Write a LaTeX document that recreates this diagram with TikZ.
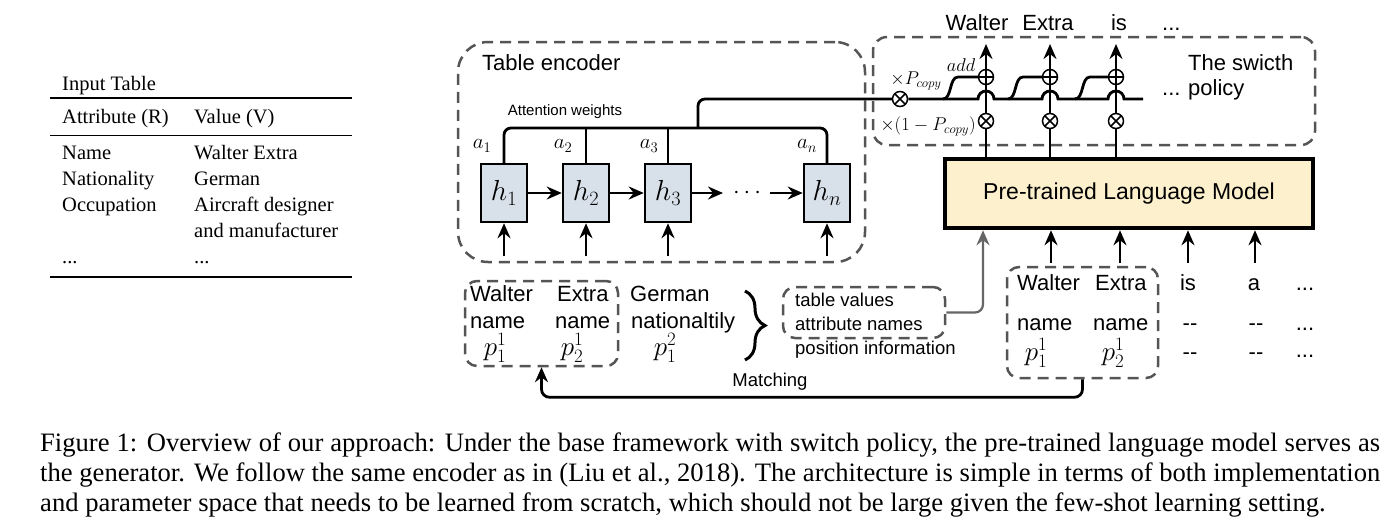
\RequirePackage{fix-cm}
\documentclass[tikz,border=0pt]{standalone}
\usepackage{fontspec}
\setmainfont{Liberation Sans}
\newfontfamily\serifT{Liberation Serif}
\usetikzlibrary{arrows.meta,calc,decorations.pathreplacing}
\definecolor{dgray}{HTML}{555555}
\definecolor{hfill}{HTML}{D8E1EA}
\definecolor{lmfill}{HTML}{FDF0CC}
\definecolor{ggray}{HTML}{666666}
\newcommand\fsz[2]{\fontsize{#1}{#2}\selectfont}
\begin{document}
\begin{tikzpicture}[x=1pt,y=-1pt,font=\fsz{22}{26},
  dbox/.style={draw=dgray,line width=2.5pt,dash pattern=on 11pt off 7pt,inner sep=0pt},
  hbox/.style={draw,line width=2.5pt,fill=hfill,minimum width=46pt,minimum height=58pt,inner sep=0pt,font=\fsz{29}{30}},
  conn/.style={line width=2.8pt},
  arr/.style={conn,-{Stealth[length=15pt,width=13pt,inset=5pt]}},
  garr/.style={line width=2.2pt,draw=ggray,-{Stealth[length=15pt,width=13pt,inset=5pt]}},
  xop/.style={circle,draw,line width=1.5pt,fill=white,minimum size=15pt,inner sep=0pt,
    path picture={\draw[line width=1.5pt]
      ([shift={(45:9pt)}]path picture bounding box.center) -- ([shift={(225:9pt)}]path picture bounding box.center)
      ([shift={(135:9pt)}]path picture bounding box.center) -- ([shift={(315:9pt)}]path picture bounding box.center);}},
  pop/.style={circle,draw,line width=1.5pt,fill=white,minimum size=15pt,inner sep=0pt,
    path picture={\draw[line width=1.5pt]
      (path picture bounding box.north) -- (path picture bounding box.south)
      (path picture bounding box.west) -- (path picture bounding box.east);}},
  txt/.style={inner sep=0pt,anchor=base},
  txtw/.style={inner sep=0pt,anchor=base west},
  mlab/.style={inner sep=0pt,font=\fsz{18.5}{22}},
  alab/.style={inner sep=0pt,font=\fsz{21}{24}},
  plab/.style={inner sep=0pt,font=\fsz{27}{30}},
]
\fill[white] (0,0) rectangle (1400,531);
\useasboundingbox (0,0) rectangle (1400,531);

% ---------------- Input table ----------------
\begin{scope}[font=\serifT\fsz{20.5}{24}]
\node[txtw] (tt) at (62,90) {Input Table};
\draw[line width=1.8pt] (50,98) -- (352,98);
\node[txtw] (ta) at (62,123) {Attribute (R)};
\node[txtw] (tv0) at (194,123) {Value (V)};
\draw[line width=1pt] (50,135) -- (352,135);
\node[txtw] (r1a) at (62,159) {Name};
\node[txtw] (r1b) at (194,159) {Walter Extra};
\node[txtw] (r2a) at (62,185) {Nationality};
\node[txtw] (r2b) at (194,185) {German};
\node[txtw] (r3a) at (62,211) {Occupation};
\node[txtw] (r3b) at (194,211) {Aircraft designer};
\node[txtw] (r4b) at (194,237) {and manufacturer};
\node[txtw] (r5a) at (62,263) {...};
\node[txtw] (r5b) at (194,263) {...};
\draw[line width=1.8pt] (50,277) -- (352,277);
\end{scope}

% ---------------- Table encoder ----------------
\node[dbox,rounded corners=30pt,minimum width=407pt,minimum height=220pt] (enc) at (661.5,152) {};
\node[txtw] (enclab) at (482,70) {Table encoder};
\node[hbox] (h1) at (504,193) {$h_1$};
\node[hbox] (h2) at (586,193) {$h_2$};
\node[hbox] (h3) at (668,193) {$h_3$};
\node[hbox] (hn) at (827,193) {$h_n$};
\node[inner sep=0pt,font=\fsz{24}{28}] (dots) at (747,193) {$\cdots$};
\coordinate (d1) at (723,193);
\coordinate (d2) at (770,193);
\draw[arr] (h1) -- (h2);
\draw[arr] (h2) -- (h3);
\draw[arr] (h3) -- (d1);
\draw[arr] (d2) -- (hn);
\foreach \n in {h1,h2,h3,hn} \draw[arr] ([yshift=-33pt]\n.south) -- (\n.south);
\coordinate (busY) at (0,128);
\draw[conn,rounded corners=7pt] (h1.north) |- (hn.north |- busY) -- (hn.north);
\draw[conn] (h2.north) -- (h2.north |- busY);
\draw[conn] (h3.north) -- (h3.north |- busY);
\node[inner sep=0pt,font=\fsz{15}{18}] (attn) at (565,112) {Attention weights};
\node[alab] (a1) at (482,146) {$a_1$};
\node[alab] (a2) at (563,146) {$a_2$};
\node[alab] (a3) at (649,146) {$a_3$};
\node[alab] (an) at (807,146) {$a_n$};

% ---------------- Switch policy ----------------
\node[dbox,rounded corners=14pt,minimum width=442pt,minimum height=108pt] (sw) at (1094,91) {};
\node[txtw] (sw1) at (1188,70) {The swicth};
\node[txtw] (sw2) at (1188,95) {policy};
\node[txtw] (swd) at (1162,95) {...};

\node[draw,line width=4.5pt,fill=lmfill,minimum width=368pt,minimum height=69pt,inner sep=0pt,font=\fsz{23}{26}] (lm) at (1129,193.5) {Pre-trained Language Model};

\coordinate (o1) at (986,44);
\coordinate (o2) at (1050,44);
\coordinate (o3) at (1116,44);
\draw[arr] (lm.north -| o1) -- (o1);
\draw[arr] (lm.north -| o2) -- (o2);
\draw[arr] (lm.north -| o3) -- (o3);

\node[xop] (m0) at (900,99) {};
\coordinate (tap) at (698,128);
\draw[conn,rounded corners=7pt] (tap) |- (m0);
\coordinate (mend) at (1143,99);
\draw[conn] (m0.east) -- ($(m0.east -| o1)+(-8,0)$) arc[start angle=180,end angle=0,radius=8pt]
  -- ($(m0.east -| o2)+(-8,0)$) arc[start angle=180,end angle=0,radius=8pt]
  -- ($(m0.east -| o3)+(-8,0)$) arc[start angle=180,end angle=0,radius=8pt]
  -- (mend);

\node[pop] (p1) at (986,77) {};
\node[pop] (p2) at (1050,77) {};
\node[pop] (p3) at (1116,77) {};
\node[xop] (q1) at (986,121) {};
\node[xop] (q2) at (1050,121) {};
\node[xop] (q3) at (1116,121) {};

\coordinate (b1) at (943,99);  \coordinate (c1) at (958,77);
\coordinate (b2) at (1008,99); \coordinate (c2) at (1023,77);
\coordinate (b3) at (1075,99); \coordinate (c3) at (1090,77);
\draw[conn] (b1) .. controls ($(b1)+(9,0)$) and ($(c1)+(-9,0)$) .. (c1) -- (p1);
\draw[conn] (b2) .. controls ($(b2)+(9,0)$) and ($(c2)+(-9,0)$) .. (c2) -- (p2);
\draw[conn] (b3) .. controls ($(b3)+(9,0)$) and ($(c3)+(-9,0)$) .. (c3) -- (p3);

\node[mlab] (lcopy) at (916,81) {$\times P_{copy}$};
\node[mlab] (ladd) at (961,65) {$add$};
\node[mlab] (lncopy) at (928,126) {$\times(1-P_{copy})$};

\node[txt] (w1) at (977,30) {Walter};
\node[txt] (w2) at (1048,30) {Extra};
\node[txt] (w3) at (1119,30) {is};
\node[txtw] (w4) at (1162,30) {...};

% ---------------- Bottom left ----------------
\node[dbox,rounded corners=12pt,minimum width=153pt,minimum height=85pt] (lb) at (541.5,323.5) {};
\node[txtw] (lw1) at (470,301) {Walter};
\node[txtw] (lw2) at (557,301) {Extra};
\node[txtw] (ln1) at (470,328) {name};
\node[txtw] (ln2) at (555,328) {name};
\node[plab] (lp1) at (495,348) {$p_1^1$};
\node[plab] (lp2) at (572,348) {$p_2^1$};
\node[txtw] (lg1) at (630,301) {German};
\node[txtw] (lg2) at (631,328) {nationaltily};
\node[plab] (lg3) at (665,348) {$p_1^2$};
\draw[line width=3pt,decorate,decoration={brace,amplitude=20pt,aspect=0.5}] (745,291) -- (745,360);

\node[dbox,rounded corners=12pt,minimum width=162pt,minimum height=51pt] (tv) at (864,312.5) {};
\begin{scope}[font=\fsz{18.5}{22}]
\node[txtw] (tv1) at (795,306) {table values};
\node[txtw] (tv2) at (795,330) {attribute names};
\node[txtw] (tv3) at (795,354) {position information};
\end{scope}
\draw[garr,rounded corners=8pt] (tv.east) -| ([xshift=-146pt]lm.south);

% ---------------- Bottom right ----------------
\node[dbox,rounded corners=12pt,minimum width=151pt,minimum height=111pt] (rb) at (1082.5,322.5) {};
\node[txtw] (rw1) at (1017,290) {Walter};
\node[txtw] (rw2) at (1095,290) {Extra};
\node[txt] (rw3) at (1188,290) {is};
\node[txt] (rw4) at (1254,290) {a};
\node[txt] (rw5) at (1305,290) {...};
\node[txtw] (rn1) at (1017,330) {name};
\node[txtw] (rn2) at (1093,330) {name};
\node[txt] (rn3) at (1190,330) {-{}-};
\node[txt] (rn4) at (1256,330) {-{}-};
\node[txt] (rn5) at (1305,330) {...};
\node[plab] (rp1) at (1036,353) {$p_1^1$};
\node[plab] (rp2) at (1113,353) {$p_2^1$};
\node[txt] (rp3) at (1190,359) {-{}-};
\node[txt] (rp4) at (1256,359) {-{}-};
\node[txt] (rp5) at (1305,357) {...};

\coordinate (i1) at (1051,263);
\coordinate (i2) at (1120,263);
\coordinate (i3) at (1188,263);
\coordinate (i4) at (1255,263);
\foreach \c in {i1,i2,i3,i4} \draw[arr] (\c) -- (\c |- lm.south);

\draw[arr,rounded corners=8pt] (rb.south) -- ++(0,18) -| (lb.south);
\node[inner sep=0pt,anchor=base,font=\fsz{18.5}{22}] (match) at (770,386) {Matching};

% ---------------- Caption ----------------
\begin{scope}[font=\serifT\fsz{26.6}{30}]
\node[txtw] (cap1) at (40,451) {\makebox[1340pt][s]{Figure 1: Overview of our approach: Under the base framework with switch policy, the pre-trained language model serves as}};
\node[txtw] (cap2) at (40,481) {\makebox[1340pt][s]{the generator. We follow the same encoder as in (Liu et al., 2018). The architecture is simple in terms of both implementation}};
\node[txtw] (cap3) at (40,511) {and parameter space that needs to be learned from scratch, which should not be large given the few-shot learning setting.};
\end{scope}
\end{tikzpicture}
\end{document}
